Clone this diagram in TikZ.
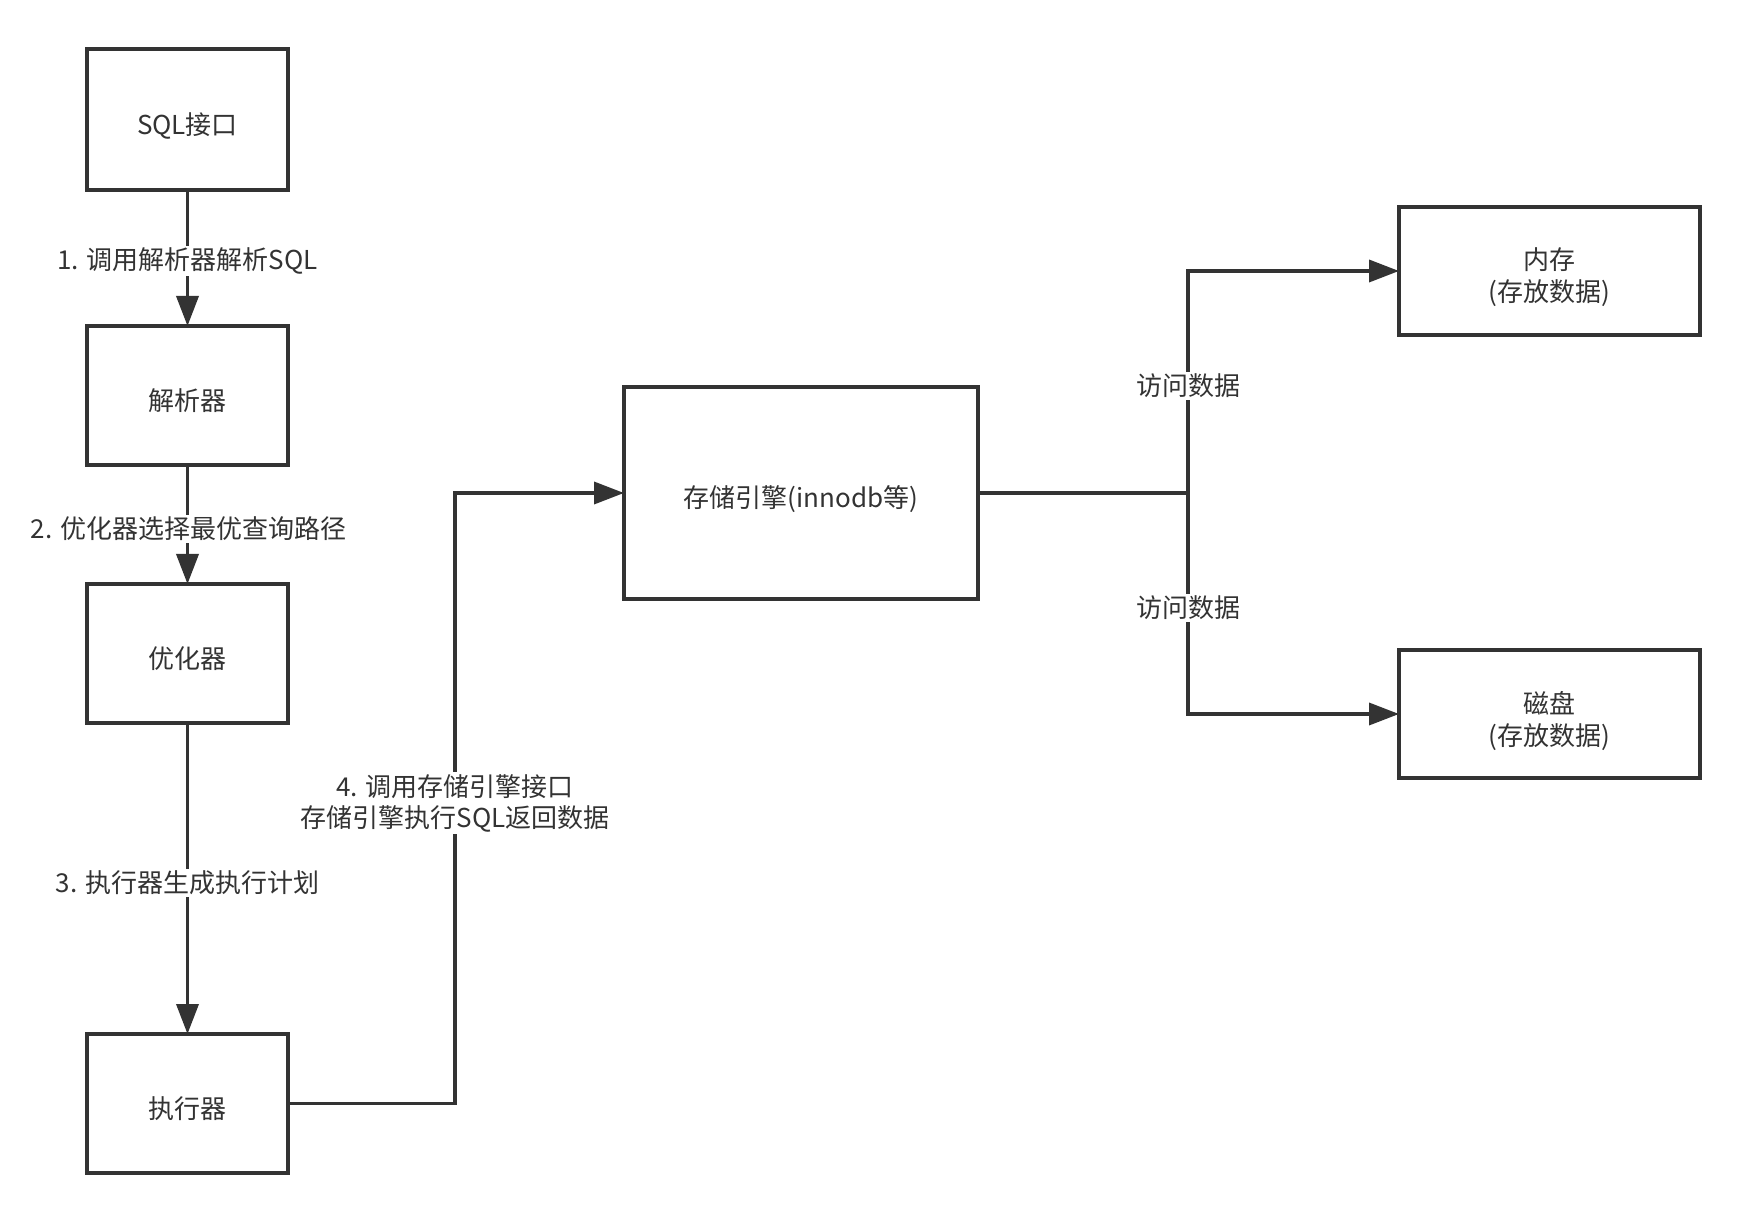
\documentclass[tikz,border=0pt]{standalone}
\usepackage{fontspec}
\setmainfont{Noto Sans CJK SC}
\usetikzlibrary{arrows.meta}
\definecolor{ink}{HTML}{333333}
\begin{document}
\begin{tikzpicture}[x=0.5pt,y=-0.5pt,
  box/.style={draw=ink, line width=1.8pt, fill=white, text=ink, align=center,
    inner sep=0pt, outer sep=0pt, font=\fontsize{13pt}{16pt}\selectfont},
  onebox/.style={box, text height=15pt, text depth=0pt},
  twobox/.style={box, text height=31pt, text depth=0pt},
  lbl/.style={fill=white, text=ink, align=center, inner sep=1pt,
    font=\fontsize{13pt}{15.5pt}\selectfont},
  conn/.style={draw=ink, line width=1.8pt, -{Triangle[length=15pt,width=11pt]}},
  plainline/.style={draw=ink, line width=1.8pt}]
\fill[white] (0,0) rectangle (1750,1224);
\useasboundingbox (0,0) rectangle (1750,1224);

% left column
\node[onebox, minimum width=100.5pt, minimum height=70.5pt] (sql) at (187.5,119.5) {SQL接口};
\node[onebox, minimum width=100.5pt, minimum height=69.5pt] (parser) at (187.5,395.5) {解析器};
\node[onebox, minimum width=100.5pt, minimum height=69.5pt] (opt) at (187.5,653.5) {优化器};
\node[onebox, minimum width=100.5pt, minimum height=69.5pt] (exec) at (187.5,1103.5) {执行器};

% storage engine
\node[onebox, minimum width=177pt, minimum height=106pt] (store) at (801,493) {存储引擎(innodb等)};

% right column
\node[twobox, minimum width=150.5pt, minimum height=64pt] (mem) at (1549.5,271) {内存\\(存放数据)};
\node[twobox, minimum width=150.5pt, minimum height=64pt] (disk) at (1549.5,714) {磁盘\\(存放数据)};

% vertical flow
\draw[conn] (sql) -- (parser);
\draw[conn] (parser) -- (opt);
\draw[conn] (opt) -- (exec);
\node[lbl] (l1) at (187.5,261) {1. 调用解析器解析SQL};
\node[lbl] (l2) at (188.5,529) {2. 优化器选择最优查询路径};
\node[lbl] (l3) at (187.5,883) {3. 执行器生成执行计划};

% executor to storage
\coordinate (bendA) at (455,1103.5);
\coordinate (bendB) at (455,493);
\draw[conn] (exec.east) -- (bendA) -- (bendB) -- (store.west);
\node[lbl] (l4) at (455,803) {4. 调用存储引擎接口\\存储引擎执行SQL返回数据};

% storage to memory / disk
\coordinate (junc) at (1188,493);
\draw[plainline] (store.east) -- (junc);
\draw[conn] (junc) |- (mem.west);
\draw[conn] (junc) |- (disk.west);
\node[lbl] (l5) at (1188,386) {访问数据};
\node[lbl] (l6) at (1188,608) {访问数据};
\end{tikzpicture}
\end{document}
